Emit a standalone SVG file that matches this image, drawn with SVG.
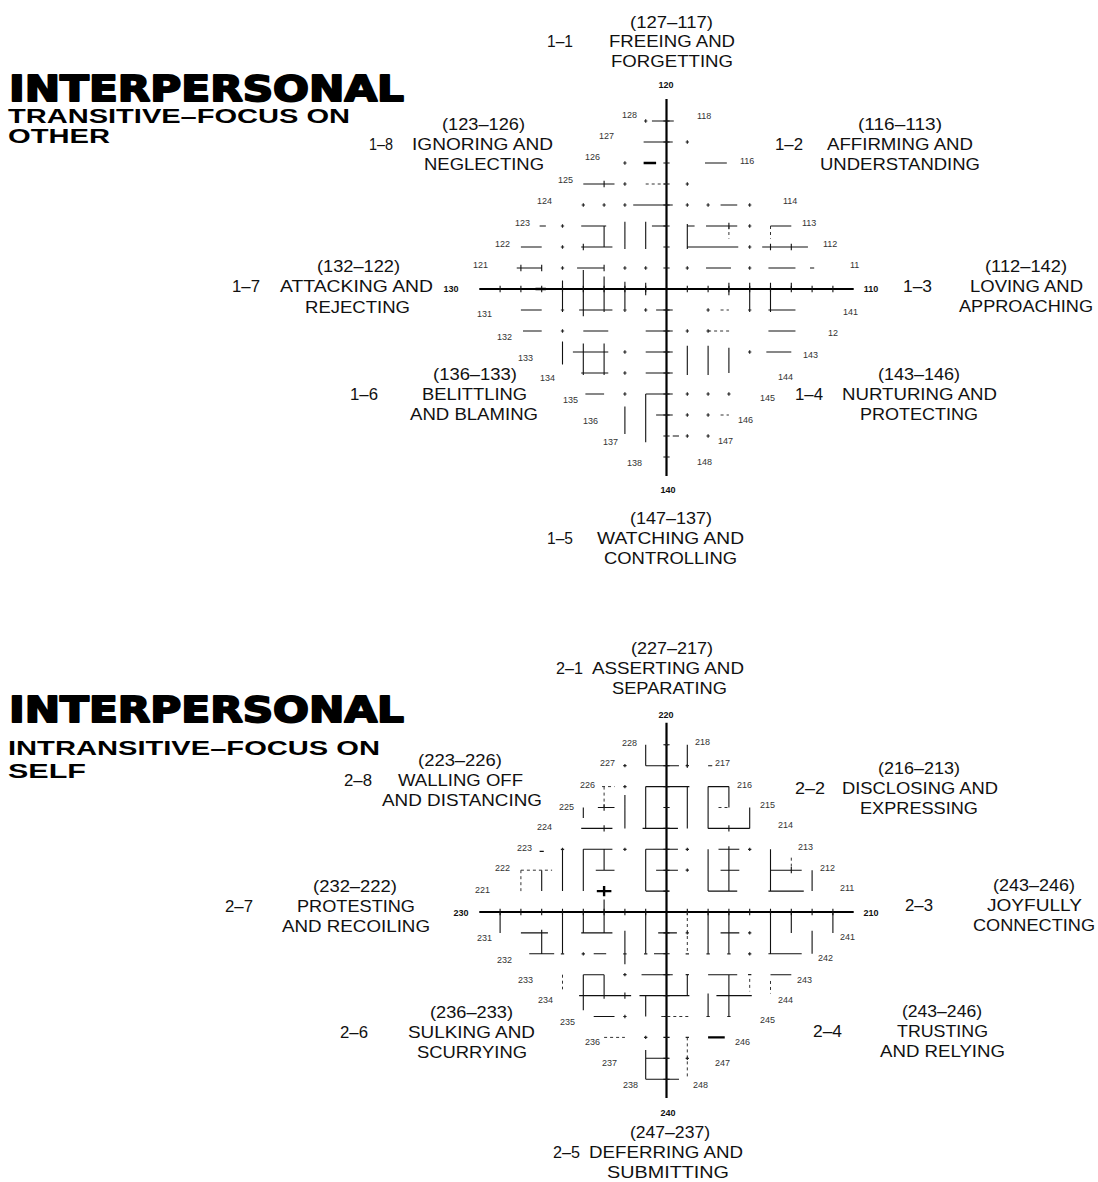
<svg xmlns="http://www.w3.org/2000/svg" width="1098" height="1182" viewBox="0 0 1098 1182">
<style>
.bg{fill:#fff}
.t{font-family:"Liberation Sans",Arial,Helvetica,sans-serif;font-size:17px;fill:#111}
.big{font-family:"DejaVu Sans","Liberation Sans",sans-serif;font-size:35px;font-weight:bold;fill:#000;stroke:#000;stroke-width:1.9;stroke-linejoin:round}
.sub{font-family:"Liberation Sans",Arial,sans-serif;font-size:20px;font-weight:bold;fill:#000}
.n{font-family:"Liberation Sans",Arial,sans-serif;font-size:9px;fill:#333}
.nb{font-family:"Liberation Sans",Arial,sans-serif;font-size:9px;font-weight:bold;fill:#111;text-anchor:middle}
.ln{fill:none;stroke:#111;stroke-width:1.1;vector-effect:non-scaling-stroke}
.ax{fill:none;stroke:#000;stroke-width:2.2;vector-effect:non-scaling-stroke}
.th{fill:none;stroke:#000;stroke-width:2.4;vector-effect:non-scaling-stroke}
.ds{fill:none;stroke:#333;stroke-width:1;stroke-dasharray:3 3;vector-effect:non-scaling-stroke}
.dt{fill:none;stroke:#222;stroke-width:1.2;vector-effect:non-scaling-stroke}
</style>
<rect class="bg" x="0" y="0" width="1098" height="1182"/>

<g id="title-1">
<text class="big" x="9" y="101" textLength="395" lengthAdjust="spacingAndGlyphs">INTERPERSONAL</text>
<text class="sub" x="8" y="123" textLength="342" lengthAdjust="spacingAndGlyphs">TRANSITIVE–FOCUS ON</text>
<text class="sub" x="8" y="143" textLength="102" lengthAdjust="spacingAndGlyphs">OTHER</text>
</g>
<g id="title-2">
<text class="big" x="9" y="722" textLength="395" lengthAdjust="spacingAndGlyphs">INTERPERSONAL</text>
<text class="sub" x="8" y="755" textLength="372" lengthAdjust="spacingAndGlyphs">INTRANSITIVE–FOCUS ON</text>
<text class="sub" x="8" y="778" textLength="78" lengthAdjust="spacingAndGlyphs">SELF</text>
</g>

<g id="connectors">
<g id="grid-1" transform="translate(666.5 289) scale(20.8 21)">
<path class="ax" d="M-9 0H9M0 -9.05V8.9"/>
<path class="ln" d="M-8 -.15v.3M-7 -.15v.3M-6 -.15v.3M-5 -.15v.3M-4 -.15v.3M-3 -.15v.3M-2 -.15v.3M-1 -.15v.3M1 -.15v.3M2 -.15v.3M3 -.15v.3M4 -.15v.3M5 -.15v.3M6 -.15v.3M7 -.15v.3M8 -.15v.3M-.15 -8h.3M-.15 -7h.3M-.15 -6h.3M-.15 -5h.3M-.15 -4h.3M-.15 -3h.3M-.15 -2h.3M-.15 -1h.3M-.15 1h.3M-.15 2h.3M-.15 3h.3M-.15 4h.3M-.15 5h.3M-.15 6h.3M-.15 7h.3M-.15 8h.3"/>
<path class="ln" d="M-0.7 -8H0.35M-1.1 -7H0.3M1.85 -6H2.9M-4 -5H-2.5M-1.6 -4H0.3M2.6 -4H3.4M-4.1 -3H-2.9M-3 -3V-2M-2 -3.2V-1.9M-1 -3.2V-1.9M-0.7 -3H0M1 -3.1V-1.9M1 -3H1.35M1.9 -3H3.4M5 -3H6M-6.1 -3H-5.8M-7 -2H-6M-4.1 -2H-2.6M1 -2H3.45M4.6 -2H6.8M-7.2 -1H-6M-4.3 -1H-3M1.9 -1H3.1M4.9 -1H6.2M6.9 -1H7.1M-5 -0.4V1.1M-4 -0.9V1.3M-3 -0.6V1.1M-2 -0.35V1.1M-1 -0.3V0.3M3 -0.3V0.3M4 -0.3V1.1M5 -0.3V1.1M6 -0.3V0.05M-7 1H-6M-4.2 1H-2.6M-0.5 1H0.3M4.9 1H6.2M-6.9 2H-6M-4 2H-2.8M-1 2H0.3M4.9 2H6.2M-5 2.5V3.6M-4.5 3H-2.8M-4 2.6V4.1M-3 2.6V4.1M-1 3H0.3M1 2.7V4.1M2 2.7V4.1M3 2.8V4M4.8 3H6M-4.1 4H-2.8M-1 4H0.3M-3.9 5H-3M-1 5H0.3M-1 5V7.3M-2 5.6V6.9M-0.5 6H0.3M0.3 7H0.6M-7 -1.15v.3M-6 -1.15v.3M-4 -2.15v.3M-3 -1.15v.3M5 -2.15v.3M6 -2.15v.3M3 -3.15v.3M-3 -5.15v.3"/>
<path class="th" d="M-1.1 -6H-0.5M-6.3 0H-5.8"/>
<path class="ds" d="M-1 -5H0M3 -3V-2.4M5 -3V-2.4M2.6 1H3M2 2H3.1M2.6 6H3"/>
<path class="dt" d="M-1.08 -8h.16M-1 -8.08v.16M.92 -7h.16M1 -7.08v.16M-2.08 -6h.16M-2 -6.08v.16M-2.08 -5h.16M-2 -5.08v.16M.92 -5h.16M1 -5.08v.16M-4.08 -4h.16M-4 -4.08v.16M-3.08 -4h.16M-3 -4.08v.16M-2.08 -4h.16M-2 -4.08v.16M.92 -4h.16M1 -4.08v.16M1.92 -4h.16M2 -4.08v.16M3.92 -4h.16M4 -4.08v.16M-5.08 -3h.16M-5 -3.08v.16M3.92 -3h.16M4 -3.08v.16M-5.08 -2h.16M-5 -2.08v.16M3.92 -2h.16M4 -2.08v.16M-5.08 -1h.16M-5 -1.08v.16M-2.08 -1h.16M-2 -1.08v.16M-1.08 -1h.16M-1 -1.08v.16M.92 -1h.16M1 -1.08v.16M3.92 -1h.16M4 -1.08v.16M-5.08 1h.16M-2.08 1h.16M-1.08 1h.16M-1 .92v.16M1.92 1h.16M2 .92v.16M3.92 1h.16M-5.08 2h.16M-5 1.92v.16M.92 2h.16M1 1.92v.16M1.92 2h.16M2 1.92v.16M-2.08 3h.16M-2 2.92v.16M3.92 3h.16M4 2.92v.16M-2.08 4h.16M-2 3.92v.16M-2.08 5h.16M-2 4.92v.16M.92 5h.16M1 4.92v.16M1.92 5h.16M2 4.92v.16M2.92 5h.16M3 4.92v.16M.92 6h.16M1 5.92v.16M1.92 6h.16M2 5.92v.16M.92 7h.16M1 6.92v.16M1.92 7h.16M2 6.92v.16"/>
</g>
<g id="grid-2" transform="translate(666.5 912) scale(20.8 20.9)">
<path class="ax" d="M-9 0H9M0 -9.05V8.9"/>
<path class="ln" d="M-8 -.15v.3M-7 -.15v.3M-6 -.15v.3M-5 -.15v.3M-4 -.15v.3M-3 -.15v.3M-2 -.15v.3M-1 -.15v.3M1 -.15v.3M2 -.15v.3M3 -.15v.3M4 -.15v.3M5 -.15v.3M6 -.15v.3M7 -.15v.3M8 -.15v.3M-.15 -8h.3M-.15 -7h.3M-.15 -6h.3M-.15 -5h.3M-.15 -4h.3M-.15 -3h.3M-.15 -2h.3M-.15 -1h.3M-.15 1h.3M-.15 2h.3M-.15 3h.3M-.15 4h.3M-.15 5h.3M-.15 6h.3M-.15 7h.3M-.15 8h.3"/>
<path class="ln" d="M-1 -8V-7M1 -8V-6.9M-1 -7H0.6M2 -7H2.2M-1 -6H1.1M-1 -6V-4M1 -6V-4M2 -6H3M2 -6V-4M3 -6V-5M-3.3 -5H-2.5M-4 -5V-4.5M-2 -5.6V-4M4 -5V-4M-4.1 -4H-2.6M-1.15 -4H0.55M2 -4H4M-4 -3H-2.6M-4 -3V-1M-3 -3V-2M-1 -3H0.55M2 -3V-1M2.5 -3H3.5M3 -3V-1M5 -3V-1M-6.1 -2.9H-5.9M-6 -2V-1M-5 -3V-1M-3.4 -2H-2.5M-1 -3V-1M-0.5 -2H0.55M2.6 -2H3.5M5 -2H6.5M7 -2V-1M-1 -1H0.1M2 -1H3.4M4.9 -1H6.6M-8 0V1M-5 0V2M-4 0V1M-3 -0.6V1M-2 0.9V2.5M-1 0V2M2 0V2M3 0V2M5 0V2M6 0V1M8 0V1M-7 1H-5.7M-6 1V2M-4.1 1H-2.6M-0.4 1H0.5M2.6 1H3.5M7 0.9V2M-6.6 2H-5.4M-3.5 2H-2.9M-0.6 2H0M4.9 2H6.5M-4 3H-3M-4 3V4.7M-3 3V4M-1.2 3H0.3M2 3H3.4M5 3H6M-4.2 4H-1.7M-1.3 4H1.1M1 3V4M2.4 4H4.1M3 3V5M2 3.9V5M-3.5 5H-2.5M-1 4V5M-1 7H0.1M-1 6.6V8M-1 8H0.6M-3 -4.15v.3M-3 -5.15v.3M3 -3.15v.3M-6 .85v.3M-3 3.85v.3M-2 3.85v.3M6 -2.15v.3M3 -4.15v.3"/>
<path class="th" d="M-3.35 -1H-2.65M-3 -1.25V-0.75M2 6H2.8"/>
<path class="ds" d="M-3.1 -6H-2.5M-3 -6V-5M2.5 -5H3M6 -2.6V-2M-7 -2H-5.5M-7 -2V-1M1 0V2M-5 3V3.7M4 3.2V3.8M5 3.3V3.9M-0.25 5H1.1M-3 6H-2M1 6V8"/>
<path class="dt" d="M-.08 -8h.16M.92 -7h.16M1 -7.08v.16M-2.08 -7h.16M-2 -7.08v.16M-2.08 -6h.16M-2 -6.08v.16M-5.08 -3h.16M-5 -3.08v.16M-2.08 -3h.16M-2 -3.08v.16M.92 -3h.16M1 -3.08v.16M3.92 -3h.16M4 -3.08v.16M.92 -2h.16M1 -2.08v.16M.92 1h.16M1 .92v.16M3.92 1h.16M4 .92v.16M-5.08 2h.16M-4.08 2h.16M-4 1.92v.16M-2.08 2h.16M-1.08 2h.16M.92 2h.16M1.92 2h.16M2.92 2h.16M3.92 2h.16M4 1.92v.16M-2.08 3h.16M-2 2.92v.16M.92 3h.16M3.92 3h.16M-2.08 5h.16M-2 4.92v.16M1.92 5h.16M2.92 5h.16M-1.08 6h.16M-1 5.92v.16M.92 6h.16M.92 7h.16M1 6.92v.16"/>
</g>
</g>

<g id="axis-labels">
<text class="nb" x="666" y="88">120</text>
<text class="nb" x="668" y="493">140</text>
<text class="nb" x="451" y="292">130</text>
<text class="nb" x="871" y="292">110</text>
<text class="nb" x="666" y="718">220</text>
<text class="nb" x="668" y="1116">240</text>
<text class="nb" x="461" y="916">230</text>
<text class="nb" x="871" y="916">210</text>
</g>

<g id="row-labels-1">
<text class="n" x="622" y="118">128</text>
<text class="n" x="599" y="139">127</text>
<text class="n" x="585" y="160">126</text>
<text class="n" x="558" y="183">125</text>
<text class="n" x="537" y="204">124</text>
<text class="n" x="515" y="226">123</text>
<text class="n" x="495" y="247">122</text>
<text class="n" x="473" y="268">121</text>
<text class="n" x="477" y="317">131</text>
<text class="n" x="497" y="340">132</text>
<text class="n" x="518" y="361">133</text>
<text class="n" x="540" y="381">134</text>
<text class="n" x="563" y="403">135</text>
<text class="n" x="583" y="424">136</text>
<text class="n" x="603" y="445">137</text>
<text class="n" x="627" y="466">138</text>
<text class="n" x="697" y="119">118</text>
<text class="n" x="740" y="164">116</text>
<text class="n" x="783" y="204">114</text>
<text class="n" x="802" y="226">113</text>
<text class="n" x="823" y="247">112</text>
<text class="n" x="850" y="268">11</text>
<text class="n" x="843" y="315">141</text>
<text class="n" x="828" y="336">12</text>
<text class="n" x="803" y="358">143</text>
<text class="n" x="778" y="380">144</text>
<text class="n" x="760" y="401">145</text>
<text class="n" x="738" y="423">146</text>
<text class="n" x="718" y="444">147</text>
<text class="n" x="697" y="465">148</text>
</g>

<g id="row-labels-2">
<text class="n" x="622" y="746">228</text>
<text class="n" x="600" y="766">227</text>
<text class="n" x="580" y="788">226</text>
<text class="n" x="559" y="810">225</text>
<text class="n" x="537" y="830">224</text>
<text class="n" x="517" y="851">223</text>
<text class="n" x="495" y="871">222</text>
<text class="n" x="475" y="893">221</text>
<text class="n" x="477" y="941">231</text>
<text class="n" x="497" y="963">232</text>
<text class="n" x="518" y="983">233</text>
<text class="n" x="538" y="1003">234</text>
<text class="n" x="560" y="1025">235</text>
<text class="n" x="585" y="1045">236</text>
<text class="n" x="602" y="1066">237</text>
<text class="n" x="623" y="1088">238</text>
<text class="n" x="695" y="745">218</text>
<text class="n" x="715" y="766">217</text>
<text class="n" x="737" y="788">216</text>
<text class="n" x="760" y="808">215</text>
<text class="n" x="778" y="828">214</text>
<text class="n" x="798" y="850">213</text>
<text class="n" x="820" y="871">212</text>
<text class="n" x="840" y="891">211</text>
<text class="n" x="840" y="940">241</text>
<text class="n" x="818" y="961">242</text>
<text class="n" x="797" y="983">243</text>
<text class="n" x="778" y="1003">244</text>
<text class="n" x="760" y="1023">245</text>
<text class="n" x="735" y="1045">246</text>
<text class="n" x="715" y="1066">247</text>
<text class="n" x="693" y="1088">248</text>
</g>

<g id="node-1-1">
<text class="t" x="630" y="28" textLength="83" lengthAdjust="spacingAndGlyphs">(127–117)</text>
<text class="t" x="547" y="47" textLength="26" lengthAdjust="spacingAndGlyphs">1–1</text>
<text class="t" x="609" y="47" textLength="126" lengthAdjust="spacingAndGlyphs">FREEING AND</text>
<text class="t" x="611" y="67" textLength="122" lengthAdjust="spacingAndGlyphs">FORGETTING</text>
</g>
<g id="node-1-2">
<text class="t" x="858" y="130" textLength="84" lengthAdjust="spacingAndGlyphs">(116–113)</text>
<text class="t" x="775" y="150" textLength="28" lengthAdjust="spacingAndGlyphs">1–2</text>
<text class="t" x="827" y="150" textLength="146" lengthAdjust="spacingAndGlyphs">AFFIRMING AND</text>
<text class="t" x="820" y="170" textLength="160" lengthAdjust="spacingAndGlyphs">UNDERSTANDING</text>
</g>
<g id="node-1-3">
<text class="t" x="985" y="272" textLength="82" lengthAdjust="spacingAndGlyphs">(112–142)</text>
<text class="t" x="903" y="292" textLength="29" lengthAdjust="spacingAndGlyphs">1–3</text>
<text class="t" x="970" y="292" textLength="113" lengthAdjust="spacingAndGlyphs">LOVING AND</text>
<text class="t" x="959" y="312" textLength="134" lengthAdjust="spacingAndGlyphs">APPROACHING</text>
</g>
<g id="node-1-4">
<text class="t" x="878" y="380" textLength="82" lengthAdjust="spacingAndGlyphs">(143–146)</text>
<text class="t" x="795" y="400" textLength="28" lengthAdjust="spacingAndGlyphs">1–4</text>
<text class="t" x="842" y="400" textLength="155" lengthAdjust="spacingAndGlyphs">NURTURING AND</text>
<text class="t" x="860" y="420" textLength="118" lengthAdjust="spacingAndGlyphs">PROTECTING</text>
</g>
<g id="node-1-5">
<text class="t" x="630" y="524" textLength="82" lengthAdjust="spacingAndGlyphs">(147–137)</text>
<text class="t" x="547" y="544" textLength="26" lengthAdjust="spacingAndGlyphs">1–5</text>
<text class="t" x="597" y="544" textLength="147" lengthAdjust="spacingAndGlyphs">WATCHING AND</text>
<text class="t" x="604" y="564" textLength="133" lengthAdjust="spacingAndGlyphs">CONTROLLING</text>
</g>
<g id="node-1-6">
<text class="t" x="433" y="380" textLength="84" lengthAdjust="spacingAndGlyphs">(136–133)</text>
<text class="t" x="350" y="400" textLength="28" lengthAdjust="spacingAndGlyphs">1–6</text>
<text class="t" x="422" y="400" textLength="105" lengthAdjust="spacingAndGlyphs">BELITTLING</text>
<text class="t" x="410" y="420" textLength="128" lengthAdjust="spacingAndGlyphs">AND BLAMING</text>
</g>
<g id="node-1-7">
<text class="t" x="317" y="272" textLength="83" lengthAdjust="spacingAndGlyphs">(132–122)</text>
<text class="t" x="232" y="292" textLength="28" lengthAdjust="spacingAndGlyphs">1–7</text>
<text class="t" x="280" y="292" textLength="153" lengthAdjust="spacingAndGlyphs">ATTACKING AND</text>
<text class="t" x="305" y="313" textLength="105" lengthAdjust="spacingAndGlyphs">REJECTING</text>
</g>
<g id="node-1-8">
<text class="t" x="442" y="130" textLength="83" lengthAdjust="spacingAndGlyphs">(123–126)</text>
<text class="t" x="369" y="150" textLength="24" lengthAdjust="spacingAndGlyphs">1–8</text>
<text class="t" x="412" y="150" textLength="141" lengthAdjust="spacingAndGlyphs">IGNORING AND</text>
<text class="t" x="424" y="170" textLength="120" lengthAdjust="spacingAndGlyphs">NEGLECTING</text>
</g>

<g id="node-2-1">
<text class="t" x="631" y="654" textLength="82" lengthAdjust="spacingAndGlyphs">(227–217)</text>
<text class="t" x="556" y="674" textLength="27" lengthAdjust="spacingAndGlyphs">2–1</text>
<text class="t" x="592" y="674" textLength="152" lengthAdjust="spacingAndGlyphs">ASSERTING AND</text>
<text class="t" x="612" y="694" textLength="115" lengthAdjust="spacingAndGlyphs">SEPARATING</text>
</g>
<g id="node-2-2">
<text class="t" x="878" y="774" textLength="82" lengthAdjust="spacingAndGlyphs">(216–213)</text>
<text class="t" x="795" y="794" textLength="30" lengthAdjust="spacingAndGlyphs">2–2</text>
<text class="t" x="842" y="794" textLength="156" lengthAdjust="spacingAndGlyphs">DISCLOSING AND</text>
<text class="t" x="860" y="814" textLength="118" lengthAdjust="spacingAndGlyphs">EXPRESSING</text>
</g>
<g id="node-2-3">
<text class="t" x="993" y="891" textLength="82" lengthAdjust="spacingAndGlyphs">(243–246)</text>
<text class="t" x="905" y="911" textLength="28" lengthAdjust="spacingAndGlyphs">2–3</text>
<text class="t" x="987" y="911" textLength="95" lengthAdjust="spacingAndGlyphs">JOYFULLY</text>
<text class="t" x="973" y="931" textLength="122" lengthAdjust="spacingAndGlyphs">CONNECTING</text>
</g>
<g id="node-2-4">
<text class="t" x="902" y="1017" textLength="80" lengthAdjust="spacingAndGlyphs">(243–246)</text>
<text class="t" x="813" y="1037" textLength="29" lengthAdjust="spacingAndGlyphs">2–4</text>
<text class="t" x="897" y="1037" textLength="91" lengthAdjust="spacingAndGlyphs">TRUSTING</text>
<text class="t" x="880" y="1057" textLength="125" lengthAdjust="spacingAndGlyphs">AND RELYING</text>
</g>
<g id="node-2-5">
<text class="t" x="630" y="1138" textLength="80" lengthAdjust="spacingAndGlyphs">(247–237)</text>
<text class="t" x="553" y="1158" textLength="27" lengthAdjust="spacingAndGlyphs">2–5</text>
<text class="t" x="589" y="1158" textLength="154" lengthAdjust="spacingAndGlyphs">DEFERRING AND</text>
<text class="t" x="607" y="1178" textLength="122" lengthAdjust="spacingAndGlyphs">SUBMITTING</text>
</g>
<g id="node-2-6">
<text class="t" x="430" y="1018" textLength="83" lengthAdjust="spacingAndGlyphs">(236–233)</text>
<text class="t" x="340" y="1038" textLength="28" lengthAdjust="spacingAndGlyphs">2–6</text>
<text class="t" x="408" y="1038" textLength="127" lengthAdjust="spacingAndGlyphs">SULKING AND</text>
<text class="t" x="417" y="1058" textLength="110" lengthAdjust="spacingAndGlyphs">SCURRYING</text>
</g>
<g id="node-2-7">
<text class="t" x="313" y="892" textLength="84" lengthAdjust="spacingAndGlyphs">(232–222)</text>
<text class="t" x="225" y="912" textLength="28" lengthAdjust="spacingAndGlyphs">2–7</text>
<text class="t" x="297" y="912" textLength="118" lengthAdjust="spacingAndGlyphs">PROTESTING</text>
<text class="t" x="282" y="932" textLength="148" lengthAdjust="spacingAndGlyphs">AND RECOILING</text>
</g>
<g id="node-2-8">
<text class="t" x="418" y="766" textLength="84" lengthAdjust="spacingAndGlyphs">(223–226)</text>
<text class="t" x="344" y="786" textLength="28" lengthAdjust="spacingAndGlyphs">2–8</text>
<text class="t" x="398" y="786" textLength="125" lengthAdjust="spacingAndGlyphs">WALLING OFF</text>
<text class="t" x="382" y="806" textLength="160" lengthAdjust="spacingAndGlyphs">AND DISTANCING</text>
</g>
</svg>
